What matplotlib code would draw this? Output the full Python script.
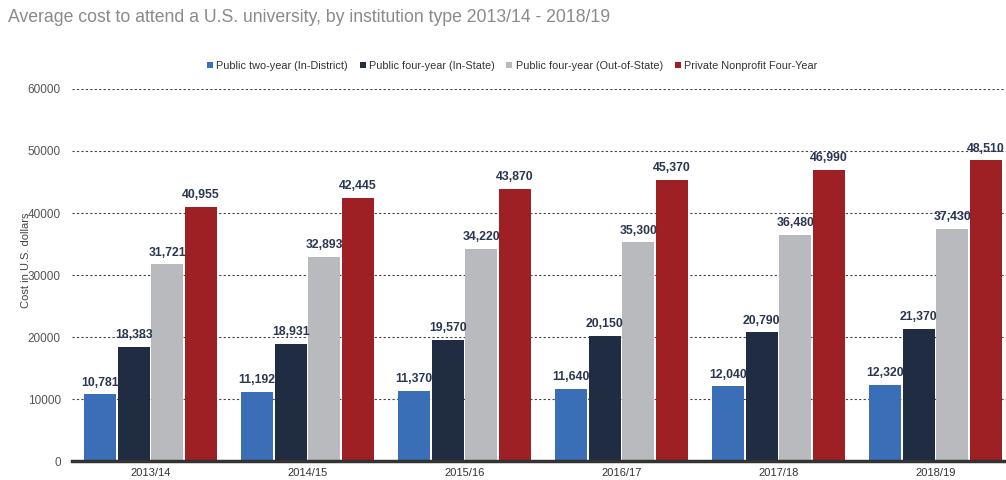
import numpy as np
import matplotlib.pyplot as plt

plt.rcParams["font.family"] = ["Liberation Sans", "DejaVu Sans"]

# -------------------------------------------------
# DATA
# -------------------------------------------------
years = ["2013/14", "2014/15", "2015/16", "2016/17", "2017/18", "2018/19"]
two_year_in_district = [10781, 11192, 11370, 11640, 12040, 12320]
four_year_in_state = [18383, 18931, 19570, 20150, 20790, 21370]
four_year_out_of_state = [31721, 32893, 34220, 35300, 36480, 37430]
private_nonprofit = [40955, 42445, 43870, 45370, 46990, 48510]

series_names = [
    "Public two-year (In-District)",
    "Public four-year (In-State)",
    "Public four-year (Out-of-State)",
    "Private Nonprofit Four-Year",
]
colors = ["#3a6fb7", "#1f2c42", "#b9babd", "#9e2024"]

# -------------------------------------------------
# FIGURE
# -------------------------------------------------
fig = plt.figure(figsize=(10.06, 4.8), dpi=100)
ax = fig.add_axes([72 / 1006, 19 / 480, 942 / 1006, 372 / 480])

x = np.arange(len(years))
width = 0.204
step = 0.215
all_series = [two_year_in_district, four_year_in_state,
              four_year_out_of_state, private_nonprofit]

for i, (vals, name, c) in enumerate(zip(all_series, series_names, colors)):
    pos = x + (i - 1.5) * step
    ax.bar(pos, vals, width=width, color=c, label=name, zorder=3)
    for p, v in zip(pos, vals):
        ax.text(p, v + 900, f"{v:,}", ha="center", va="bottom",
                fontsize=8.8, fontweight="bold", color="#2a3650", zorder=4)

ax.set_xlim(-0.5, len(years) - 0.5)
ax.set_ylim(0, 60000)
ax.set_yticks(range(0, 60001, 10000))
ax.set_xticks(x)
ax.set_xticklabels(years, fontsize=8, color="#333333")
ax.tick_params(axis="y", labelsize=8.5, colors="#555555", length=0, pad=8)
ax.tick_params(axis="x", length=0, pad=5)

ax.grid(axis="y", linestyle=(0, (2, 2)), color="#444444", linewidth=0.8, zorder=0)
for s in ["top", "right", "left"]:
    ax.spines[s].set_visible(False)
ax.spines["bottom"].set_color("#333333")
ax.spines["bottom"].set_linewidth(2.5)
ax.spines["bottom"].set_zorder(5)

fig.text(26 / 1006, 1 - 260 / 480, "Cost in U.S. dollars", rotation=90,
         ha="center", va="center", fontsize=8, color="#444444")

fig.text(8 / 1006, 1 - 18 / 480,
         "Average cost to attend a U.S. university, by institution type 2013/14 - 2018/19",
         ha="left", va="center", fontsize=12.7, color="#8a8a8a")

fig.legend(loc="center", bbox_to_anchor=(512 / 1006, 1 - 66 / 480), ncol=4,
           frameon=False, fontsize=7.8, handlelength=0.55, handleheight=0.55,
           handletextpad=0.3, columnspacing=1.1, labelcolor="#333333")

fig.savefig("out.png", dpi=100)
